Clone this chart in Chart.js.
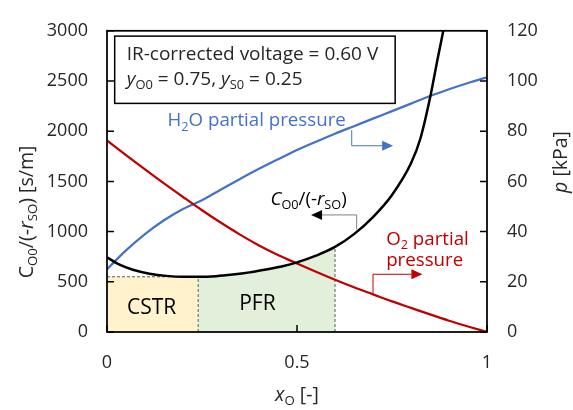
<!DOCTYPE html>
<html><head><meta charset="utf-8">
<script src="https://cdn.jsdelivr.net/npm/chart.js@4.4.1/dist/chart.umd.min.js"></script>
<style>html,body{margin:0;padding:0;background:#fff;}</style>
</head><body>
<canvas id="c" width="573" height="410"></canvas>
<script>
// ---- data ----
const xTicks = [0, 0.5, 1];
const leftTicks = [0, 500, 1000, 1500, 2000, 2500, 3000];
const rightTicks = [0, 20, 40, 60, 80, 100, 120];

// C_O0/(-r_SO) [s/m] vs x_O
const blackX = [0, 0.033, 0.068, 0.112, 0.156, 0.2, 0.24, 0.287, 0.331, 0.375, 0.418, 0.462, 0.5, 0.55, 0.6, 0.65, 0.7, 0.75, 0.8, 0.825, 0.85, 0.87, 0.885, 0.9];
const blackY = [744, 670, 620, 581, 559, 550, 550, 556, 572, 594, 623, 655, 693, 760, 847, 975, 1145, 1365, 1680, 1930, 2330, 2720, 3000, 3300];

// partial pressures [kPa] vs x_O
const pX   = [0, 0.05, 0.1, 0.15, 0.2, 0.25, 0.3, 0.35, 0.4, 0.45, 0.5, 0.55, 0.6, 0.65, 0.7, 0.75, 0.8, 0.85, 0.9, 0.95, 1];
const h2oP = [25, 32.5, 39, 44.5, 49, 52.5, 56.8, 61, 65, 68.8, 72.5, 75.8, 79, 82, 85, 88, 91, 94, 96.7, 99.2, 101.5];
const o2P  = [76.3, 70.5, 64.8, 59.2, 53.8, 48.5, 43.5, 38.8, 34.5, 30.7, 27.3, 24, 20.8, 17.8, 15, 12.2, 9.6, 7, 4.5, 2.2, 0];

const cstrEnd = 0.24, pfrEnd = 0.6, cstrLevel = 550;

// ---- build ----
const pts = (xs, ys) => xs.map((x, i) => ({x, y: ys[i]}));
const blackPts = pts(blackX, blackY);
const pfrPts = blackPts.filter(p => p.x >= cstrEnd && p.x <= pfrEnd);
const pfrTop = blackY[blackX.indexOf(pfrEnd)];

const FONT = '"Open Sans", "DejaVu Sans", sans-serif';
const TXT = '#262626';

function drawRich(ctx, parts, x, y, size, color, align) {
  const items = parts.map(p => {
    const t = p[0], st = p[1] || '';
    const sub = st.includes('s'), it = st.includes('i');
    const fs = sub ? size * 0.68 : size;
    const font = (it ? 'italic ' : '') + fs + 'px ' + FONT;
    ctx.font = font;
    return {t, font, w: ctx.measureText(t).width, dy: sub ? size * 0.22 : 0};
  });
  const total = items.reduce((a, b) => a + b.w, 0);
  let cx = x;
  if (align === 'center') cx = x - total / 2;
  else if (align === 'right') cx = x - total;
  ctx.fillStyle = color;
  ctx.textBaseline = 'alphabetic';
  ctx.textAlign = 'left';
  for (const it of items) {
    ctx.font = it.font;
    ctx.fillText(it.t, cx, y + it.dy);
    cx += it.w;
  }
}

function arrow(ctx, pts, color, lineColor) {
  ctx.save();
  ctx.strokeStyle = lineColor || color;
  ctx.lineWidth = 1;
  const n = pts.length;
  const [ex, ey] = pts[n - 1], [px, py] = pts[n - 2];
  const ang = Math.atan2(ey - py, ex - px);
  const L = 11, W = 5;
  const bx = ex - L * Math.cos(ang), by = ey - L * Math.sin(ang);
  ctx.beginPath();
  ctx.moveTo(pts[0][0], pts[0][1]);
  for (let i = 1; i < n - 1; i++) ctx.lineTo(pts[i][0], pts[i][1]);
  ctx.lineTo(bx, by);
  ctx.stroke();
  ctx.fillStyle = color;
  ctx.beginPath();
  ctx.moveTo(ex, ey);
  ctx.lineTo(bx - W * Math.sin(ang), by + W * Math.cos(ang));
  ctx.lineTo(bx + W * Math.sin(ang), by - W * Math.cos(ang));
  ctx.closePath();
  ctx.fill();
  ctx.restore();
}

const decor = {
  id: 'decor',
  afterDatasetsDraw(chart) {
    const ctx = chart.ctx, a = chart.chartArea;
    const sx = chart.scales.x, sy = chart.scales.y, sy1 = chart.scales.y1;
    const X = v => sx.getPixelForValue(v), Y = v => sy.getPixelForValue(v);
    ctx.save();
    // frame
    ctx.strokeStyle = '#000'; ctx.lineWidth = 1.75;
    ctx.strokeRect(a.left, a.top, a.right - a.left, a.bottom - a.top);
    // inside ticks
    ctx.lineWidth = 1.5;
    ctx.beginPath();
    sy.ticks.forEach(t => { const p = Y(t.value); ctx.moveTo(a.left, p); ctx.lineTo(a.left + 7, p); });
    sy1.ticks.forEach(t => { const p = sy1.getPixelForValue(t.value); ctx.moveTo(a.right, p); ctx.lineTo(a.right - 7, p); });
    sx.ticks.forEach(t => { const p = X(t.value); ctx.moveTo(p, a.bottom); ctx.lineTo(p, a.bottom - 7); });
    ctx.stroke();

    // info box
    const bx0 = X(0.0202), bx1 = X(0.7583), by0 = Y(2947), by1 = Y(2277);
    ctx.fillStyle = '#fff';
    ctx.fillRect(bx0, by0, bx1 - bx0, by1 - by0);
    ctx.lineWidth = 1.5; ctx.strokeStyle = '#000';
    ctx.strokeRect(bx0, by0, bx1 - bx0, by1 - by0);
    drawRich(ctx, [['IR-corrected voltage = 0.60 V']], X(0.0517), Y(2708), 19, TXT, 'left');
    drawRich(ctx, [['y', 'i'], ['O0', 's'], [' = 0.75, '], ['y', 'i'], ['S0', 's'], [' = 0.25']], X(0.0517), Y(2459), 19, TXT, 'left');

    // annotations
    const blue = '#4472C4', red = '#C00000';
    drawRich(ctx, [['H'], ['2', 's'], ['O partial pressure']], X(0.1594), Y(2047), 18.7, blue, 'left');
    arrow(ctx, [[X(0.644), Y(2010)], [X(0.644), Y(1855)], [X(0.753), Y(1855)]], blue);
    drawRich(ctx, [['C', 'i'], ['O0', 's'], ['/(-'], ['r', 'i'], ['SO', 's'], [')']], X(0.430), Y(1262), 18.7, '#000', 'left');
    arrow(ctx, [[X(0.657), Y(1022)], [X(0.657), Y(1166)], [X(0.537), Y(1166)]], '#000', '#7f7f7f');
    drawRich(ctx, [['O'], ['2', 's'], [' partial']], X(0.7347), Y(869), 18.7, red, 'left');
    drawRich(ctx, [['pressure']], X(0.7347), Y(653), 18.7, red, 'left');
    arrow(ctx, [[X(0.700), Y(383)], [X(0.700), Y(575)], [X(0.830), Y(575)]], red);
    drawRich(ctx, [['CSTR']], X(0.1174), Y(179), 21, '#000', 'center');
    drawRich(ctx, [['PFR']], X(0.3958), Y(217), 21, '#000', 'center');

    // axis titles
    drawRich(ctx, [['x', 'i'], ['O', 's'], [' [-]']], X(0.5), 401, 19.5, TXT, 'center');
    ctx.save();
    ctx.translate(33, 212); ctx.rotate(-Math.PI / 2);
    drawRich(ctx, [['C'], ['O0', 's'], ['/(-'], ['r', 'i'], ['SO', 's'], [') [s/m]']], 0, 0, 19.5, TXT, 'center');
    ctx.restore();
    ctx.save();
    ctx.translate(567, 162); ctx.rotate(-Math.PI / 2);
    drawRich(ctx, [['p', 'i'], [' [kPa]']], 0, 0, 19.5, TXT, 'center');
    ctx.restore();
    ctx.restore();
  }
};

const tickFont = {family: FONT, size: 18};
const fmt = v => String(v);
new Chart(document.getElementById('c'), {
  type: 'line',
  data: {
    datasets: [
      {data: [{x: 0, y: cstrLevel}, {x: cstrEnd, y: cstrLevel}], fill: 'origin', backgroundColor: '#FFF2CC',
       borderColor: '#595959', borderWidth: 1, borderDash: [3, 2], pointRadius: 0, yAxisID: 'y', order: 10},
      {data: pfrPts, fill: 'origin', backgroundColor: '#E2EFDA', borderWidth: 0, borderColor: 'rgba(0,0,0,0)',
       pointRadius: 0, cubicInterpolationMode: 'monotone', yAxisID: 'y', order: 9},
      {data: [{x: cstrEnd, y: 0}, {x: cstrEnd, y: cstrLevel}], borderColor: '#595959', borderWidth: 1, borderDash: [3, 2],
       pointRadius: 0, fill: false, yAxisID: 'y', order: 8},
      {data: [{x: pfrEnd, y: 0}, {x: pfrEnd, y: pfrTop}], borderColor: '#595959', borderWidth: 1, borderDash: [3, 2],
       pointRadius: 0, fill: false, yAxisID: 'y', order: 8},
      {data: pts(pX, h2oP), borderColor: '#4472C4', borderWidth: 2.25, pointRadius: 0, fill: false,
       cubicInterpolationMode: 'monotone', yAxisID: 'y1', order: 3},
      {data: pts(pX, o2P), borderColor: '#C00000', borderWidth: 2.25, pointRadius: 0, fill: false,
       cubicInterpolationMode: 'monotone', yAxisID: 'y1', order: 2},
      {data: blackPts, borderColor: '#000', borderWidth: 2.5, pointRadius: 0, fill: false,
       cubicInterpolationMode: 'monotone', yAxisID: 'y', order: 1}
    ]
  },
  options: {
    responsive: false, animation: false, devicePixelRatio: 1,
    layout: {padding: {top: 18, left: 0, right: 0, bottom: 0}},
    plugins: {legend: {display: false}, tooltip: {enabled: false}},
    scales: {
      x: {type: 'linear', min: 0, max: 1,
          afterBuildTicks: s => { s.ticks = xTicks.map(v => ({value: v})); },
          ticks: {font: tickFont, color: TXT, padding: 20, maxRotation: 0, callback: fmt},
          grid: {display: false, drawTicks: false}, border: {display: false},
          afterFit: s => { s.height = 78; }},
      y: {type: 'linear', position: 'left', min: 0, max: 3000,
          afterBuildTicks: s => { s.ticks = leftTicks.map(v => ({value: v})); },
          ticks: {font: tickFont, color: TXT, padding: 19, callback: fmt},
          grid: {display: false, drawTicks: false}, border: {display: false},
          afterFit: s => { s.width = 107; }},
      y1: {type: 'linear', position: 'right', min: 0, max: 120,
          afterBuildTicks: s => { s.ticks = rightTicks.map(v => ({value: v})); },
          ticks: {font: tickFont, color: TXT, padding: 20, callback: fmt},
          grid: {display: false, drawTicks: false}, border: {display: false},
          afterFit: s => { s.width = 86; }}
    }
  },
  plugins: [decor]
});
</script>
</body></html>
